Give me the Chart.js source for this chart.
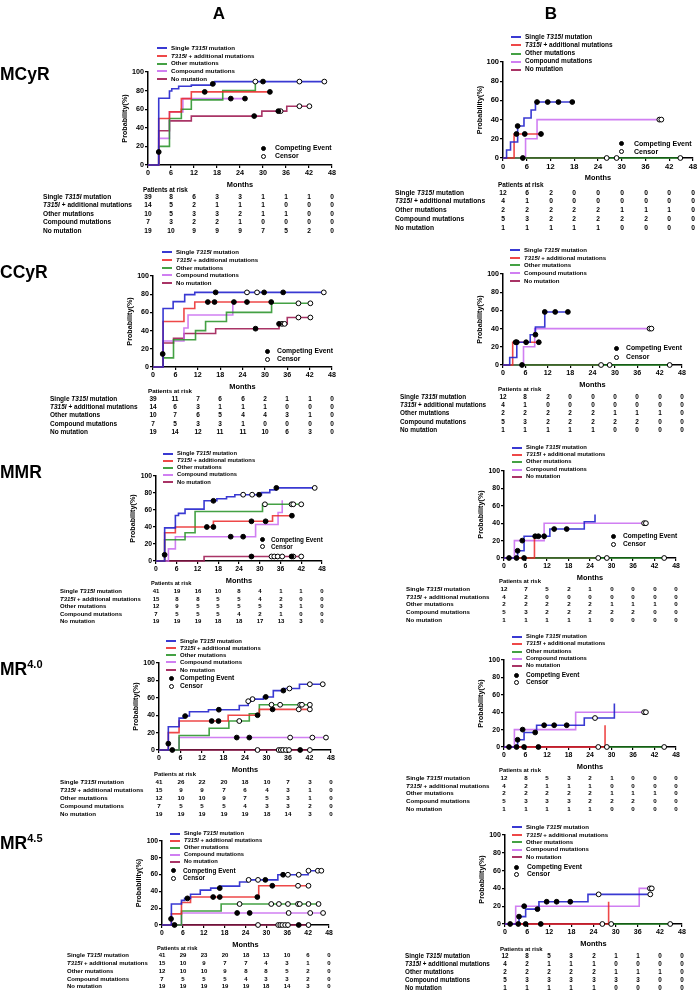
<!DOCTYPE html>
<html>
<head>
<meta charset="utf-8">
<script src="https://cdn.jsdelivr.net/npm/chart.js@4.4.1/dist/chart.umd.min.js"></script>
<style>
  html, body { margin: 0; padding: 0; background: #fff; }
  body { position: relative; width: 697px; height: 991px; overflow: hidden;
         font-family: "Liberation Sans", Arial, sans-serif; color: #000; }
  #layer { position: absolute; left: 0; top: 0; width: 697px; height: 991px;
           will-change: transform; background: transparent; }
  .t { position: absolute; white-space: nowrap; font-weight: bold; line-height: 1; color: #000; }
  .big { position: absolute; white-space: nowrap; font-weight: bold; line-height: 1; color: #000; }
  canvas { position: absolute; }
</style>
</head>
<body>
<div id="layer"></div>
<script>
// Grupos, colores y ticks comunes
const GROUPS = ['Single T315I mutation', 'T315I + additional mutations', 'Other mutations', 'Compound mutations', 'No mutation'];
const COLORS = ['rgba(35,35,205,0.9)', 'rgba(235,40,40,0.85)', 'rgba(35,145,35,0.85)', 'rgba(200,105,240,0.85)', 'rgba(160,30,85,0.9)'];
const MONTH_TICKS = [0, 6, 12, 18, 24, 30, 36, 42, 48];
const PROB_TICKS = [0, 20, 40, 60, 80, 100];

// ---- MCyR, A ----
const mcyrA_single = [[0,0],[2.8,71.8],[5.6,79.5],[6.2,82],[8,84.6],[11.3,85.9],[16.9,87.2],[17.4,89.7],[46,89.7]];
const mcyrA_plus = [[0,0],[2.8,50],[5.6,57.1],[8.7,71.4],[11.3,78.6],[31.8,78.6]];
const mcyrA_other = [[0,0],[2.8,20],[5.6,50],[8.7,60],[11.3,70],[19.5,80],[28,90]];
const mcyrA_compound = [[0,0],[2.8,28.6],[5.6,57.1],[9.1,71.4],[25.3,71.4]];
const mcyrA_none = [[0,0],[2.8,36.8],[5.6,47.4],[11.3,52.6],[29.7,57.9],[36.2,63.2],[42.1,63.2]];
const mcyrA_events = [[2.8,14],[16.9,87.2],[30,89.7],[14.8,78.6],[31.8,78.6],[21.6,71.4],[25.3,71.4],[27.7,52.6],[34,57.9]];
const mcyrA_censor = [[28,89.7],[39.5,89.7],[46,89.7],[34.6,57.9],[39.5,63.2],[42.1,63.2]];
const mcyrA_risk = [[39,8,6,3,3,1,1,1,0],[14,5,2,1,1,1,0,0,0],[10,5,3,3,2,1,1,0,0],[7,3,2,2,1,0,0,0,0],[19,10,9,9,9,7,5,2,0]];

// ---- MCyR, B ----
const mcyrB_single = [[0,0],[0.9,8.3],[1.9,16.7],[3.7,33.3],[5.3,41.7],[7.1,50],[8.2,58.3],[17.5,58.3]];
const mcyrB_plus = [[0,0],[2.8,25],[9.6,25]];
const mcyrB_other = [[0,0],[45,0]];
const mcyrB_compound = [[0,0],[5.7,20],[8.6,40],[40,40]];
const mcyrB_none = [[0,0],[26,0]];
const mcyrB_events = [[3.7,33.3],[8.6,58.3],[11.3,58.3],[14,58.3],[17.5,58.3],[3.4,25],[5.5,25],[9.6,25],[5,0]];
const mcyrB_censor = [[26.2,0],[28.7,0],[44.8,0],[39.5,40],[40,40]];
const mcyrB_risk = [[12,6,2,0,0,0,0,0,0],[4,1,0,0,0,0,0,0,0],[2,2,2,2,2,1,1,1,0],[5,3,2,2,2,2,2,0,0],[1,1,1,1,1,0,0,0,0]];

// ---- CCyR, A ----
const ccyrA_single = [[0,0],[2.7,64.3],[5.4,71.8],[8.5,79.5],[11.2,82],[46,82]];
const ccyrA_plus = [[0,0],[2.7,50],[8.3,64.3],[11.2,71.4],[31.7,71.4]];
const ccyrA_other = [[0,0],[2.7,10],[5.5,30],[11.4,40],[14.1,50],[19.7,60],[31.8,70],[42.2,70]];
const ccyrA_compound = [[0,0],[2.7,28.6],[8.3,42.9],[9.4,57.1],[21.4,71.4],[25,71.4]];
const ccyrA_none = [[0,0],[2.7,26.3],[5.5,31.6],[8.3,36.8],[16.8,42.1],[33.8,47.4],[36,54.4],[42.2,54.4]];
const ccyrA_events = [[2.6,14.3],[16.8,82],[29.8,82],[34.9,82],[14.7,71.4],[16.5,71.4],[21.7,71.4],[25.2,71.4],[31.7,71.4],[27.5,42.1],[33.8,47.4]];
const ccyrA_censor = [[25.2,82],[27.9,82],[45.8,82],[39,70],[42.2,70],[34.6,47.4],[35.3,47.4],[39,54.4],[42.2,54.4]];
const ccyrA_risk = [[39,11,7,6,6,2,1,1,0],[14,6,3,1,1,1,0,0,0],[10,7,6,5,4,4,3,1,0],[7,5,3,3,1,0,0,0,0],[19,14,12,11,11,10,6,3,0]];

// ---- CCyR, B ----
const ccyrB_single = [[0,0],[1.8,8.3],[3.7,25],[7.3,33.3],[8.7,41.7],[11.2,58.3],[17.6,58.3]];
const ccyrB_plus = [[0,0],[2.6,25],[9.6,25]];
const ccyrB_other = [[0,0],[45,0]];
const ccyrB_compound = [[0,0],[5.5,20],[8.5,40],[39.8,40]];
const ccyrB_none = [[0,0],[26,0]];
const ccyrB_events = [[3.7,25],[6.2,25],[8.7,33.3],[11.2,58.3],[14,58.3],[17.4,58.3],[3.4,25],[9.6,25],[5.1,0]];
const ccyrB_censor = [[26.3,0],[28.6,0],[44.7,0],[39.3,40],[39.8,40]];
const ccyrB_risk = [[12,8,2,0,0,0,0,0,0],[4,1,0,0,0,0,0,0,0],[2,2,2,2,2,1,1,1,0],[5,3,2,2,2,2,2,0,0],[1,1,1,1,1,0,0,0,0]];

// ---- MMR, A ----
const mmrA_single = [[0,0],[2.5,39],[5.6,53.5],[6.5,56],[8.4,61],[13.9,70.8],[17.6,73.2],[20.4,75.6],[22.8,78],[30.5,80.5],[32.9,83.7],[34.8,86],[46,86]];
const mmrA_plus = [[0,0],[2.5,33.3],[5.6,40],[16.6,46.7],[33.7,53.3],[39.3,53.3]];
const mmrA_other = [[0,0],[2.5,25],[8.4,33.3],[11.3,58.3],[30.8,66.7],[42,66.7]];
const mmrA_compound = [[0,0],[3.6,14.3],[5.6,28.6],[28.8,42.9],[35.3,57.1],[36.5,71.4]];
const mmrA_none = [[0,0],[13.9,5.3],[42,5.3]];
const mmrA_events = [[2.5,7.3],[16.6,70.8],[29.8,78],[34.8,86],[14.7,40],[16.6,40],[27.6,46.7],[31.7,46.7],[39.3,53.3],[21.6,28.6],[25.2,28.6],[27.6,5.3],[39.2,5.3]];
const mmrA_censor = [[25.2,78],[27.8,78],[45.9,86],[31.5,66.7],[39.2,66.7],[39.7,66.7],[42,66.7],[33.4,5.3],[34.2,5.3],[35.2,5.3],[36.5,5.3],[39.7,5.3],[42,5.3]];
const mmrA_risk = [[41,19,16,10,8,4,1,1,0],[15,8,8,5,5,4,2,0,0],[12,9,5,5,5,5,3,1,0],[7,5,5,5,4,2,1,0,0],[19,19,19,18,18,17,13,3,0]];

// ---- MMR, B ----
const mmrB_single = [[0,0],[3.8,8.3],[5.6,25],[12.8,33.3],[22.4,41.7],[25.4,50]];
const mmrB_plus = [[0,0],[8.5,25]];
const mmrB_other = [[0,0],[45,0]];
const mmrB_compound = [[0,0],[2.9,20],[11.2,40],[39.6,40]];
const mmrB_none = [[0,0],[26,0]];
const mmrB_events = [[3.8,8.3],[8.7,25],[9.6,25],[11.2,25],[14,33.3],[17.5,33.3],[1.4,0],[3.5,0],[5.6,0],[5.1,20]];
const mmrB_censor = [[26.3,0],[28.7,0],[44.7,0],[39.1,40],[39.6,40]];
const mmrB_risk = [[12,7,5,2,1,0,0,0,0],[4,2,0,0,0,0,0,0,0],[2,2,2,2,2,1,1,1,0],[5,3,2,2,2,2,2,0,0],[1,1,1,1,1,0,0,0,0]];

// ---- MR4.0, A ----
const mr40A_single = [[0,0],[2.6,26.8],[5.6,36.6],[6.8,39],[8.5,43.9],[13.8,46.3],[22.4,51.2],[24.9,56.1],[25.9,58.5],[29.1,61],[31.9,68.3],[34.7,70.7],[39.2,75.6],[45.9,75.6]];
const mr40A_plus = [[0,0],[2.6,20],[5.6,33.3],[19.3,40],[28,46.7],[42.1,46.7]];
const mr40A_other = [[0,0],[5.6,16.7],[14,25],[19.5,33.3],[25.2,41.7],[28,52],[42.1,52]];
const mr40A_compound = [[0,0],[5.6,14.3],[46.6,14.3]];
const mr40A_none = [[0,0],[42.1,0]];
const mr40A_events = [[2.6,7.3],[7.3,39],[16.7,46.3],[29.8,61],[34.7,68.3],[14.7,33.3],[16.6,33.3],[27.5,40],[31.7,46.7],[3.7,0],[21.7,14.3],[25.2,14.3],[39.4,0]];
const mr40A_censor = [[24.9,56.1],[26.1,58.5],[36.4,70.7],[42.1,75.6],[45.7,75.6],[22.4,33.3],[39,46.7],[42.1,46.7],[31.4,52],[33.8,52],[39.4,52],[39.9,52],[42.1,52],[36.6,14.3],[42.8,14.3],[46.6,14.3],[27.5,0],[33.4,0],[34,0],[34.6,0],[35.4,0],[36.3,0],[42.1,0]];
const mr40A_risk = [[41,26,22,20,18,10,7,3,0],[15,9,9,7,6,4,3,1,0],[12,10,10,9,7,5,3,1,0],[7,5,5,5,4,3,3,2,0],[19,19,19,19,19,18,14,3,0]];

// ---- MR4.0, B ----
const mr40B_single = [[0,0],[3.8,8.3],[5.6,16.7],[9.1,25],[22.4,33.3],[30.8,50]];
const mr40B_plus = [[0,0],[28.2,25]];
const mr40B_other = [[28.2,0],[45,0]];
const mr40B_compound = [[0,0],[2.9,20],[20,40],[39.6,40]];
const mr40B_none = [[0,0],[26,0]];
const mr40B_events = [[3.8,8.3],[8.7,16.7],[11.2,25],[14,25],[17.5,25],[1.4,0],[3.5,0],[5.6,0],[9.6,0],[5.2,20]];
const mr40B_censor = [[25.4,33.3],[26.3,0],[28.7,0],[44.7,0],[39.1,40],[39.6,40]];
const mr40B_risk = [[12,8,5,3,2,1,0,0,0],[4,2,1,1,1,0,0,0,0],[2,2,2,2,2,1,1,1,0],[5,3,3,3,2,2,2,0,0],[1,1,1,1,1,0,0,0,0]];

// ---- MR4.5, A ----
const mr45A_single = [[0,0],[2.7,25],[5.6,29.3],[6.5,31.7],[8.2,36.6],[11,41.5],[14,43.9],[16.6,46.3],[22.3,51.2],[24.7,53.7],[33.3,59.8],[42,64.6],[45.8,64.6]];
const mr45A_plus = [[0,0],[2.7,13.3],[5.6,26.7],[8.2,33.3],[27.8,46.7],[42.1,46.7]];
const mr45A_other = [[0,0],[5.6,16.7],[17,25],[45,25]];
const mr45A_compound = [[0,0],[5.6,14.3],[46.3,14.3]];
const mr45A_none = [[0,0],[42.1,0]];
const mr45A_events = [[2.6,7.3],[7.3,31.7],[16.6,43.9],[29.7,53.7],[34.8,59.8],[14.7,33.3],[16.6,33.3],[27.4,33.3],[31.7,46.7],[3.6,0],[21.6,14.3],[25.2,14.3],[39.3,0]];
const mr45A_censor = [[24.9,53.7],[27.6,53.7],[36.2,59.8],[39.3,59.8],[42.1,64.6],[44.8,64.6],[45.8,64.6],[39.1,46.7],[42.1,46.7],[22.3,25],[31.4,25],[33.6,25],[36.2,25],[39.1,25],[39.6,25],[42.1,25],[45,25],[36.4,14.3],[42.6,14.3],[46.3,14.3],[27.6,0],[33.4,0],[34,0],[34.6,0],[35.4,0],[36.2,0],[42.1,0]];
const mr45A_risk = [[41,29,23,20,18,13,10,6,0],[15,10,9,7,7,4,3,1,0],[12,10,10,9,8,8,5,2,0],[7,5,5,5,4,3,3,2,0],[19,19,19,19,19,18,14,3,0]];

// ---- MR4.5, B ----
const mr45B_single = [[0,0],[3.8,8.3],[5.6,16.7],[9.2,25],[22.5,33.3],[39.4,33.3]];
const mr45B_plus = [[0,0],[28.1,25]];
const mr45B_other = [[28.1,0],[44.8,0]];
const mr45B_compound = [[0,0],[2.9,20],[36.4,40],[39.8,40]];
const mr45B_none = [[0,0],[26,0]];
const mr45B_events = [[3.8,8.3],[8.8,16.7],[11.3,25],[14,25],[17.7,25],[1.4,0],[3.6,0],[5.6,0],[9.7,0],[5.2,20]];
const mr45B_censor = [[25.4,33.3],[39.4,33.3],[26.4,0],[28.8,0],[44.8,0],[39.3,40],[39.8,40]];
const mr45B_risk = [[12,8,5,3,2,1,1,0,0],[4,2,1,1,1,0,0,0,0],[2,2,2,2,2,1,1,1,0],[5,3,3,3,3,3,3,0,0],[1,1,1,1,1,0,0,0,0]];

Chart.defaults.font.family = '"Liberation Sans", Arial, sans-serif';
Chart.defaults.color = '#000';

// Posición y tamaños de cada panel (px de la página)
const PANELS = [
  { c: [mcyrA_single, mcyrA_plus, mcyrA_other, mcyrA_compound, mcyrA_none], ev: mcyrA_events, ce: mcyrA_censor, risk: mcyrA_risk,
    x0: 148, x48: 332, y0: 165, y100: 72, leg: { x: 157, y: 48, step: 7.75, size: 6.2 },
    mk: { x: 263, tx: 275, y: 148.7, step: 7.6, size: 6.9 }, tab: { hy: 190, y: 197, step: 8.5, lx: 43, size: 6.6 } },
  { c: [mcyrB_single, mcyrB_plus, mcyrB_other, mcyrB_compound, mcyrB_none], ev: mcyrB_events, ce: mcyrB_censor, risk: mcyrB_risk,
    x0: 503, x48: 693, y0: 158, y100: 62, leg: { x: 511, y: 37.3, step: 8.1, size: 6.5 },
    mk: { x: 621, tx: 634, y: 143.3, step: 7.7, size: 7 }, tab: { hy: 185, y: 193, step: 8.75, lx: 395, size: 6.7 } },
  { c: [ccyrA_single, ccyrA_plus, ccyrA_other, ccyrA_compound, ccyrA_none], ev: ccyrA_events, ce: ccyrA_censor, risk: ccyrA_risk,
    x0: 153, x48: 332, y0: 367, y100: 276, leg: { x: 162, y: 252.3, step: 7.7, size: 6.1 },
    mk: { x: 267, tx: 277, y: 351, step: 8, size: 6.8 }, tab: { hy: 391, y: 399, step: 8.25, lx: 50, size: 6.5 } },
  { c: [ccyrB_single, ccyrB_plus, ccyrB_other, ccyrB_compound, ccyrB_none], ev: ccyrB_events, ce: ccyrB_censor, risk: ccyrB_risk,
    x0: 503, x48: 682, y0: 365, y100: 274, leg: { x: 510, y: 250, step: 7.7, size: 6.1 },
    mk: { x: 616, tx: 626, y: 348.7, step: 8.4, size: 6.8 }, tab: { hy: 389, y: 397, step: 8.25, lx: 400, size: 6.4 } },
  { c: [mmrA_single, mmrA_plus, mmrA_other, mmrA_compound, mmrA_none], ev: mmrA_events, ce: mmrA_censor, risk: mmrA_risk,
    x0: 156, x48: 322, y0: 561, y100: 476, leg: { x: 163, y: 454, step: 7.1, size: 5.8 },
    mk: { x: 262, tx: 271, y: 539.7, step: 7, size: 6.3 }, tab: { hy: 584, y: 591, step: 7.6, lx: 60, size: 6 } },
  { c: [mmrB_single, mmrB_plus, mmrB_other, mmrB_compound, mmrB_none], ev: mmrB_events, ce: mmrB_censor, risk: mmrB_risk,
    x0: 504, x48: 676, y0: 558, y100: 471, leg: { x: 512, y: 448, step: 7.2, size: 5.9 },
    mk: { x: 613, tx: 623, y: 536, step: 8, size: 6.6 }, tab: { hy: 582, y: 589, step: 7.75, lx: 406, size: 6.2 } },
  { c: [mr40A_single, mr40A_plus, mr40A_other, mr40A_compound, mr40A_none], ev: mr40A_events, ce: mr40A_censor, risk: mr40A_risk,
    x0: 159, x48: 331, y0: 750, y100: 663, leg: { x: 166, y: 640.7, step: 7.25, size: 6 },
    mk: { x: 171, tx: 180, y: 678.7, step: 7.3, size: 6.6 }, tab: { hy: 775, y: 782, step: 8, lx: 60, size: 6.2 } },
  { c: [mr40B_single, mr40B_plus, mr40B_other, mr40B_compound, mr40B_none], ev: mr40B_events, ce: mr40B_censor, risk: mr40B_risk,
    x0: 504, x48: 676, y0: 747, y100: 660, leg: { x: 512, y: 637, step: 7.3, size: 5.9 },
    mk: { x: 516, tx: 526, y: 675, step: 7.5, size: 6.5 }, tab: { hy: 771, y: 778, step: 7.75, lx: 406, size: 6.2 } },
  { c: [mr45A_single, mr45A_plus, mr45A_other, mr45A_compound, mr45A_none], ev: mr45A_events, ce: mr45A_censor, risk: mr45A_risk,
    x0: 162, x48: 329, y0: 925, y100: 841, leg: { x: 170, y: 833.7, step: 7.1, size: 5.8 },
    mk: { x: 173, tx: 183, y: 870.7, step: 7.3, size: 6.4 }, tab: { hy: 949, y: 955.3, step: 7.75, lx: 67, size: 6 } },
  { c: [mr45B_single, mr45B_plus, mr45B_other, mr45B_compound, mr45B_none], ev: mr45B_events, ce: mr45B_censor, risk: mr45B_risk,
    x0: 505, x48: 682, y0: 924, y100: 835, leg: { x: 512, y: 827.3, step: 7.4, size: 6.1 },
    mk: { x: 516, tx: 527, y: 867, step: 7.7, size: 6.7 }, tab: { hy: 949, y: 956.3, step: 8, lx: 405, size: 6.3 } }
];

// Etiquetas de fila y de columna
const ROW_TITLES = [['MCyR', '', 75], ['CCyR', '', 273], ['MMR', '', 473], ['MR', '4.0', 668], ['MR', '4.5', 842]];
const COL_TITLES = [['A', 219], ['B', 551]];

const layer = document.getElementById('layer');

// Texto sin transform (posiciones redondeadas, centrado con caja fija)
function txt(html, x, y, size, center, cls) {
  const d = document.createElement('div');
  d.className = cls || 't';
  d.innerHTML = html;
  d.style.fontSize = size + 'px';
  d.style.top = Math.round(y - size / 2) + 'px';
  if (center) {
    d.style.left = Math.round(x - 15) + 'px';
    d.style.width = '30px';
    d.style.textAlign = 'center';
  } else {
    d.style.left = Math.round(x) + 'px';
  }
  layer.appendChild(d);
  return d;
}
const ital = (s) => s.replace('T315I', '<i>T315I</i>');

function box(x, y, w, h, css) {
  const d = document.createElement('div');
  d.style.position = 'absolute';
  d.style.left = Math.round(x) + 'px';
  d.style.top = Math.round(y) + 'px';
  d.style.width = w + 'px';
  d.style.height = h + 'px';
  Object.assign(d.style, css);
  layer.appendChild(d);
}

function markerSet(data, fill) {
  return {
    type: 'scatter', data: data.map(([x, y]) => ({ x, y })), showLine: false,
    pointRadius: 2.4, pointHoverRadius: 2.4, pointBackgroundColor: fill,
    pointBorderColor: '#000', pointBorderWidth: 1, clip: false
  };
}

function drawPanel(p) {
  const YW = 30, PT = 6, PR = 7, XH = 26;
  const w = YW + (p.x48 - p.x0) + PR;
  const h = PT + (p.y0 - p.y100) + XH;
  const left = p.x0 - YW, top = p.y100 - PT;
  const canvas = document.createElement('canvas');
  canvas.width = w; canvas.height = h;
  canvas.style.left = left + 'px'; canvas.style.top = top + 'px';
  canvas.style.width = w + 'px'; canvas.style.height = h + 'px';
  document.body.insertBefore(canvas, layer);

  const tickSize = p.leg.size + 1;
  const datasets = [markerSet(p.ev, '#000'), markerSet(p.ce, '#fff')];
  p.c.forEach((curve, i) => datasets.push({
    type: 'line', data: curve.map(([x, y]) => ({ x, y })), stepped: true,
    borderColor: COLORS[i], borderWidth: 1.6, pointRadius: 0, fill: false, clip: 3
  }));

  const axisCommon = {
    grid: { drawOnChartArea: false, drawTicks: true, tickLength: 3, color: '#000', lineWidth: 1.2 },
    border: { display: true, color: '#000', width: 1.5 }
  };
  const chart = new Chart(canvas, {
    type: 'line',
    data: { datasets },
    options: {
      responsive: false, animation: false, devicePixelRatio: 1,
      layout: { padding: { top: PT, right: PR, left: 0, bottom: 0 } },
      plugins: { legend: { display: false }, tooltip: { enabled: false } },
      scales: {
        x: Object.assign({
          type: 'linear', min: 0, max: 48,
          afterBuildTicks: (s) => { s.ticks = MONTH_TICKS.map((v) => ({ value: v })); },
          afterFit: (s) => { s.height = XH; },
          ticks: { autoSkip: false, maxRotation: 0, padding: 1, font: { size: tickSize, weight: 'bold' } },
          title: { display: true, text: 'Months', font: { size: 7.4, weight: 'bold' }, padding: { top: 0, bottom: 1.5 } }
        }, axisCommon),
        y: Object.assign({
          min: 0, max: 100,
          afterBuildTicks: (s) => { s.ticks = PROB_TICKS.map((v) => ({ value: v })); },
          afterFit: (s) => { s.width = YW; },
          ticks: { padding: 1, font: { size: tickSize, weight: 'bold' } },
          title: { display: true, text: 'Probability(%)', font: { size: 7.2, weight: 'bold' }, padding: { top: 2.5, bottom: 0 } }
        }, axisCommon)
      }
    }
  });

  // Leyenda de grupos
  GROUPS.forEach((g, i) => {
    const y = p.leg.y + i * p.leg.step;
    box(p.leg.x, y - 1, 10, 2, { background: COLORS[i] });
    txt(ital(g), p.leg.x + 14, y, p.leg.size);
  });
  // Leyenda de marcadores
  [['Competing Event', '#000'], ['Censor', '#fff']].forEach(([name, fill], i) => {
    const y = p.mk.y + i * p.mk.step;
    box(p.mk.x - 2.5, y - 2.5, 3, 3, { background: fill, border: '1px solid #000', borderRadius: '50%' });
    txt(name, p.mk.tx, y, p.mk.size);
  });

  // Tabla de pacientes en riesgo, alineada con los ticks del eje x
  const xs = chart.scales.x;
  txt('Patients at risk', p.x0 - 5, p.tab.hy, p.tab.size - 0.3);
  GROUPS.forEach((g, r) => {
    const y = p.tab.y + r * p.tab.step;
    txt(ital(g), p.tab.lx, y, p.tab.size);
    p.risk[r].forEach((n, j) => {
      txt(String(n), left + xs.getPixelForValue(MONTH_TICKS[j]), y, p.tab.size, true);
    });
  });
}

PANELS.forEach(drawPanel);

ROW_TITLES.forEach(([main, sup, y]) => {
  txt(main + (sup ? '<sup style="font-size:11px;vertical-align:7px">' + sup + '</sup>' : ''), 0, y, 17.5, false, 'big');
});
COL_TITLES.forEach(([t, x]) => txt(t, x, 13, 17, true, 'big'));
</script>
</body>
</html>
